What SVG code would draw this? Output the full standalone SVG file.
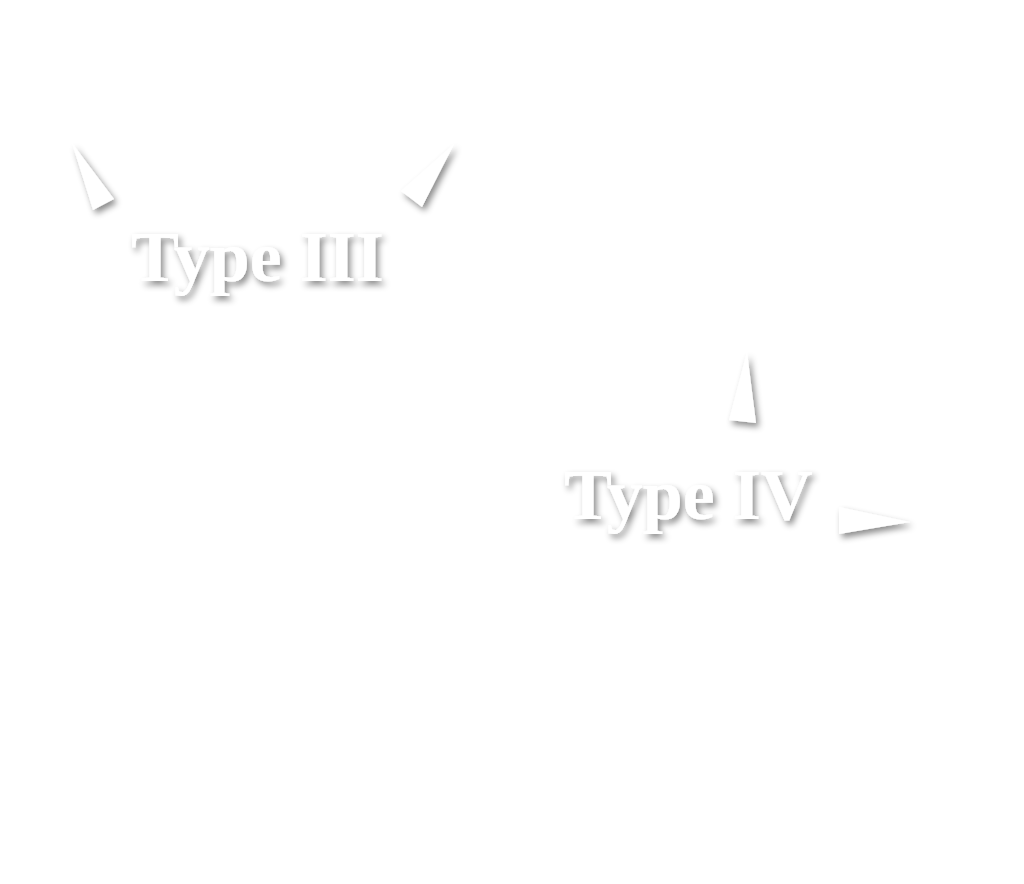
<svg xmlns="http://www.w3.org/2000/svg" width="1024" height="884" viewBox="0 0 1024 884">
<defs>
<filter id="sh" x="-30%" y="-30%" width="170%" height="170%">
<feDropShadow dx="3" dy="4" stdDeviation="3" flood-color="#000" flood-opacity="0.45"/>
</filter>
<style>
.lbl{font-weight:bold;font-size:72px;fill:#fff}
.wedge{fill:#fff}
</style>
</defs>
<rect width="1024" height="884" fill="#fff"/>
<g id="type3" filter="url(#sh)">
<text class="lbl" x="131" y="281" font-family="Liberation Serif, Times New Roman, serif">Type III</text>
</g>
<g id="type4" filter="url(#sh)">
<text class="lbl" x="564" y="519" font-family="Liberation Serif, Times New Roman, serif">Type IV</text>
</g>
<g id="connectors" filter="url(#sh)">
<polygon class="wedge" points="72,143 114,199 93,210"/>
<polygon class="wedge" points="454,144 401,191 422,207"/>
<polygon class="wedge" points="747,352 729,420 756,423"/>
<polygon class="wedge" points="839,507 910,522 839,534"/>
</g>
</svg>
